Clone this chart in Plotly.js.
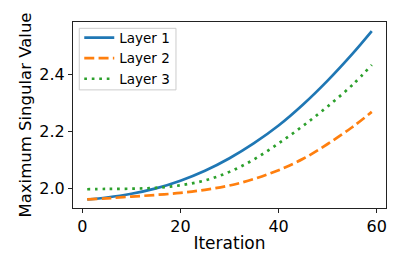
<!DOCTYPE html>
<html>
<head>
<meta charset="utf-8">
<script src="https://cdn.plot.ly/plotly-3.0.1.min.js"></script>
<style>
html,body{margin:0;padding:0;background:#fff;}
#chart{width:407px;height:271px;}
</style>
</head>
<body>
<div id="chart"></div>
<script>
const iterations = [1, 5, 10, 15, 20, 25, 30, 35, 40, 45, 50, 55, 59];
const layer1 = [1.960, 1.967, 1.980, 1.999, 2.026, 2.061, 2.105, 2.158, 2.220, 2.294, 2.378, 2.471, 2.552];
const layer2 = [1.960, 1.964, 1.970, 1.976, 1.983, 1.994, 2.009, 2.032, 2.063, 2.103, 2.155, 2.214, 2.268];
const layer3 = [1.996, 1.997, 1.998, 2.001, 2.010, 2.027, 2.057, 2.101, 2.157, 2.219, 2.287, 2.362, 2.433];
const seriesNames = ["Layer 1", "Layer 2", "Layer 3"];
const xTicks = [0, 20, 40, 60];
const yTicks = [2.0, 2.2, 2.4];

const font = "DejaVu Sans, Liberation Sans, sans-serif";
const traces = [
  {x: iterations, y: layer1, name: seriesNames[0], mode: "lines",
   line: {color: "#1f77b4", width: 2.7, shape: "spline", smoothing: 1}},
  {x: iterations, y: layer2, name: seriesNames[1], mode: "lines",
   line: {color: "#ff7f0e", width: 2.7, dash: "10px,4.3px", shape: "spline", smoothing: 1}},
  {x: iterations, y: layer3, name: seriesNames[2], mode: "lines",
   line: {color: "#2ca02c", width: 2.7, dash: "2.7px,4.8px", shape: "spline", smoothing: 1}}
];

const axisCommon = {
  showgrid: false, zeroline: false,
  showline: true, mirror: true, linecolor: "#222", linewidth: 1,
  ticks: "outside", ticklen: 4, tickwidth: 1, tickcolor: "#222",
  tickfont: {family: font, size: 16, color: "#000"}
};

const layout = {
  width: 407, height: 271,
  margin: {l: 73, r: 21, t: 22, b: 63},
  paper_bgcolor: "#fff", plot_bgcolor: "#fff",
  font: {family: font, color: "#000"},
  xaxis: Object.assign({}, axisCommon, {
    range: [-1.9, 61.9], tickvals: xTicks, ticktext: xTicks.map(String),
    title: {text: "Iteration", font: {family: font, size: 17, color: "#000"}, standoff: 1}
  }),
  yaxis: Object.assign({}, axisCommon, {
    range: [1.930, 2.584], tickvals: yTicks, ticktext: yTicks.map(v => v.toFixed(1)),
    title: {text: "Maximum Singular Value", font: {family: font, size: 16.5, color: "#000"}, standoff: 3}
  }),
  showlegend: true,
  legend: {
    x: 0.02, y: 0.998, xanchor: "left", yanchor: "top",
    bgcolor: "rgba(0,0,0,0)", borderwidth: 0,
    font: {family: font, size: 13.5, color: "#000"},
    tracegroupgap: 0
  },
  shapes: [{
    type: "rect", xref: "paper", yref: "paper",
    x0: 0.020, x1: 0.329, y0: 0.635, y1: 0.966,
    line: {color: "#cccccc", width: 1}, fillcolor: "rgba(255,255,255,0.8)", layer: "above"
  }]
};

Plotly.newPlot("chart", traces, layout, {displayModeBar: false, staticPlot: true});
</script>
</body>
</html>
